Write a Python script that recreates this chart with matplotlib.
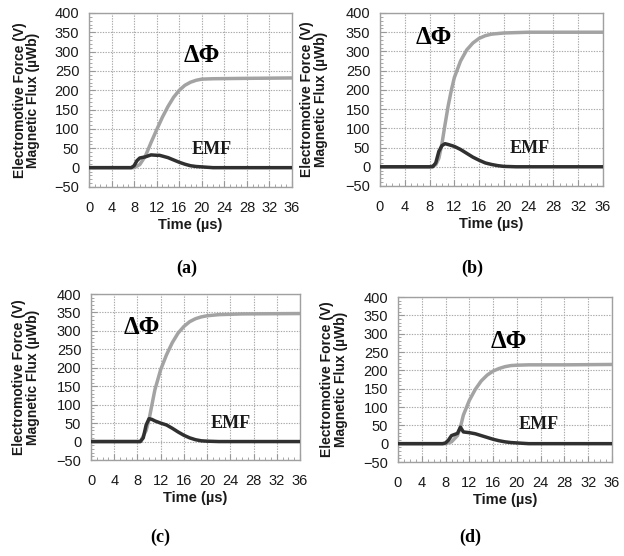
import numpy as np
import matplotlib
matplotlib.use("Agg")
import matplotlib.pyplot as plt
from matplotlib.ticker import MultipleLocator

# data (time in us, flux in uWb, emf in V)
t_flux_a = [0, 8, 9, 10, 11, 12, 13, 14, 15, 16, 17, 18, 19, 20, 22, 28, 36]
flux_a = [0, 0, 8, 30, 65, 98, 130, 158, 182, 200, 213, 221, 226, 229, 230, 231, 232]
t_emf_a = [0, 7.5, 8, 8.5, 9, 10, 11, 12, 12.5, 13, 14, 15, 16, 17, 18, 19, 20, 22, 36]
emf_a = [0, 0, 5, 18, 25, 28, 33, 32, 32, 30, 26, 20, 14, 9, 5, 3, 2, 0, 0]

t_flux_b = [0, 8, 9, 9.5, 10, 10.5, 11, 11.5, 12, 13, 14, 15, 16, 17, 18, 20, 22, 24, 36]
flux_b = [0, 0, 5, 22, 60, 110, 158, 198, 232, 275, 304, 322, 334, 341, 345, 348, 349, 350, 350]
t_emf_b = [0, 8.5, 9, 9.5, 10, 10.5, 11, 12, 13, 14, 15, 16, 17, 18, 19, 20, 22, 36]
emf_b = [0, 0, 10, 40, 55, 60, 58, 53, 45, 35, 25, 17, 10, 6, 3, 1, 0, 0]

t_flux_c = [0, 8.5, 9.5, 10, 10.5, 11, 12, 13, 14, 15, 16, 17, 18, 19, 20, 22, 26, 36]
flux_c = [0, 0, 30, 60, 100, 140, 195, 235, 268, 294, 312, 325, 333, 338, 341, 344, 346, 347]
t_emf_c = [0, 8.5, 9, 9.5, 10, 10.5, 11, 12, 13, 14, 15, 16, 17, 18, 19, 20, 22, 36]
emf_c = [0, 0, 10, 45, 62, 60, 56, 50, 45, 36, 26, 17, 10, 5, 2, 1, 0, 0]

t_flux_d = [0, 8, 9, 10, 10.5, 11, 12, 13, 14, 15, 16, 17, 18, 19, 20, 22, 28, 36]
flux_d = [0, 0, 5, 22, 45, 78, 118, 148, 171, 187, 198, 205, 210, 213, 214, 215, 215, 216]
t_emf_d = [0, 7.5, 8, 8.5, 9, 10, 10.5, 11, 12, 13, 14, 15, 16, 17, 18, 19, 20, 22, 36]
emf_d = [0, 0, 2, 10, 22, 28, 45, 32, 30, 27, 22, 17, 12, 8, 5, 3, 2, 0, 0]

xticks = [0, 4, 8, 12, 16, 20, 24, 28, 32, 36]
yticks = [-50, 0, 50, 100, 150, 200, 250, 300, 350, 400]
ylabel = "Electromotive Force (V)\nMagnetic Flux (\u00b5Wb)"

W, H = 624, 556
fig = plt.figure(figsize=(W / 100, H / 100), dpi=100)

def px_axes(l, r, top, bot):
    return fig.add_axes([l / W, 1 - bot / H, (r - l) / W, (bot - top) / H])

# pixel boxes: left, right, top, bottom
boxes = [(89, 292, 13, 187), (380, 603, 13, 186), (91, 300, 294, 460), (398, 612, 297, 462)]
panels = [
    (t_flux_a, flux_a, t_emf_a, emf_a, (20, 290), (21.8, 46), 26.5, (187, 268), "(a)"),
    (t_flux_b, flux_b, t_emf_b, emf_b, (8.7, 335), (24.2, 47), 314, (472, 268), "(b)"),
    (t_flux_c, flux_c, t_emf_c, emf_c, (8.8, 308), (24, 48), 26, (160, 537), "(c)"),
    (t_flux_d, flux_d, t_emf_d, emf_d, (18.7, 278), (23.7, 52), 334, (470, 537), "(d)"),
]

for box, (tf, fl, te, em, phi_pos, emf_pos, ylab_x, lab_pos, lab) in zip(boxes, panels):
    ax = px_axes(*box)
    ax.plot(tf, fl, color="#a3a3a3", lw=2.5, solid_capstyle="round", zorder=3)
    ax.plot(te, em, color="#303030", lw=2.5, solid_capstyle="round", zorder=4)
    ax.set_xlim(0, 36)
    ax.set_ylim(-50, 400)
    ax.set_xticks(xticks)
    ax.set_yticks(yticks)
    ax.xaxis.set_minor_locator(MultipleLocator(1))
    ax.yaxis.set_minor_locator(MultipleLocator(10))
    ax.tick_params(which="both", direction="in", color="#999999")
    ax.tick_params(which="major", length=4, width=0.8)
    ax.tick_params(which="minor", length=2.5, width=0.6)
    ax.tick_params(axis="x", which="major", labelsize=10.5, pad=10)
    ax.tick_params(axis="y", which="major", labelsize=10.5, pad=7)
    for lbl in ax.get_xticklabels() + ax.get_yticklabels():
        lbl.set_fontfamily("Liberation Sans")
        lbl.set_color("#1a1a1a")
    ax.grid(True, which="major", color="#a8a8a8", lw=0.8, ls=(0, (1.2, 1.2)))
    for s in ax.spines.values():
        s.set_color("#a0a0a0")
        s.set_linewidth(1.0)
    ax.set_xlabel("Time (\u00b5s)", fontsize=10.5, fontweight="bold", family="Liberation Sans",
                  labelpad=2, color="#1a1a1a")
    ax.text(phi_pos[0], phi_pos[1], "\u0394\u03a6", fontsize=18, fontweight="bold",
            family="Liberation Serif", ha="center", va="center", zorder=5)
    ax.text(emf_pos[0], emf_pos[1], "EMF", fontsize=13, fontweight="bold", family="Liberation Serif",
            ha="center", va="center", zorder=5, color="#1a1a1a")
    cy = (box[2] + box[3]) / 2
    fig.text(ylab_x / W, 1 - cy / H, ylabel, rotation=90, ha="center", va="center",
             fontsize=10, fontweight="bold", family="Liberation Sans", linespacing=0.95,
             multialignment="center", color="#1a1a1a")
    fig.text(lab_pos[0] / W, 1 - lab_pos[1] / H, lab, ha="center", va="center",
             fontsize=13, fontweight="bold", family="Liberation Serif")

fig.savefig("out.png", dpi=100)
